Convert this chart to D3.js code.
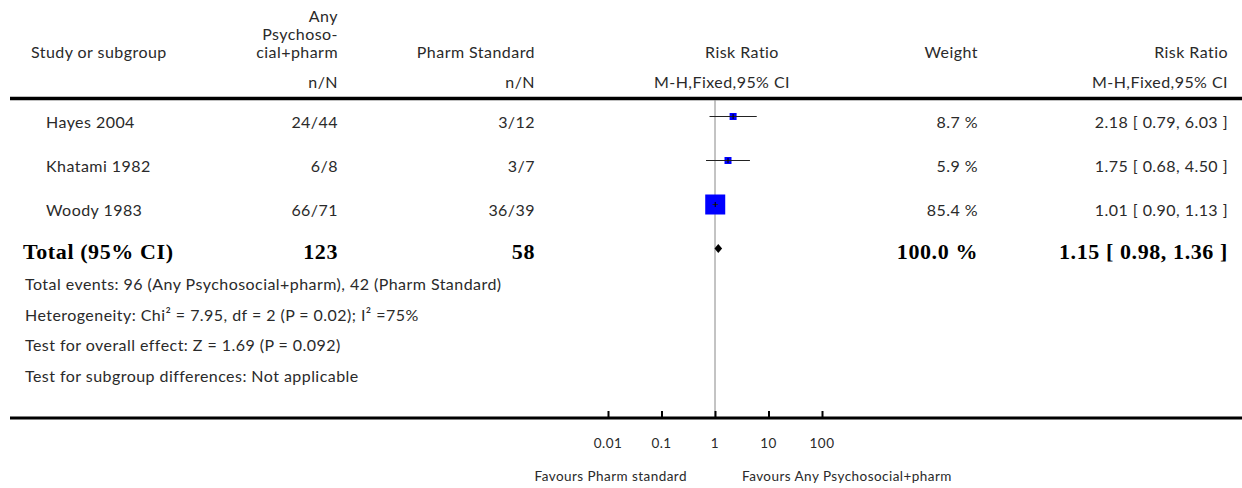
<!DOCTYPE html>
<html>
<head>
<meta charset="utf-8">
<script src="https://cdn.jsdelivr.net/npm/d3@7"></script>
<style>
  html, body { margin: 0; padding: 0; background: #fff; }
  svg { display: block; }
  .reg { font-family: Lato, "Open Sans", sans-serif; font-size: 16px; letter-spacing: 0.45px; fill: #2a2a2a; }
  .small { font-family: Lato, "Open Sans", sans-serif; font-size: 13.5px; letter-spacing: 0.45px; fill: #2a2a2a; }
  .bold { font-family: "Liberation Serif", "DejaVu Serif", serif; font-weight: bold; font-size: 22px; letter-spacing: 0.6px; fill: #000; }
</style>
</head>
<body>
<svg id="chart" width="1242" height="488"></svg>
<script>
// Study-level data (Risk Ratio, M-H fixed effect)
const studies = ["Hayes 2004", "Khatami 1982", "Woody 1983"];
const expEvents = [24, 6, 66];
const expTotals = [44, 8, 71];
const ctlEvents = [3, 3, 36];
const ctlTotals = [12, 7, 39];
const ratios = [2.18, 1.75, 1.01];
const lowers = [0.79, 0.68, 0.90];
const uppers = [6.03, 4.50, 1.13];
const weights = [8.7, 5.9, 85.4];

// Pooled estimate
const totalLabel = "Total (95% CI)";
const totalExpN = 123;
const totalCtlN = 58;
const totalWeight = 100.0;
const totalRatio = 1.15;
const totalLower = 0.98;
const totalUpper = 1.36;

const footnotes = [
  "Total events: 96 (Any Psychosocial+pharm), 42 (Pharm Standard)",
  "Heterogeneity: Chi² = 7.95, df = 2 (P = 0.02); I² =75%",
  "Test for overall effect: Z = 1.69 (P = 0.092)",
  "Test for subgroup differences: Not applicable"
];

const tickValues = [0.01, 0.1, 1, 10, 100];
const tickLabels = ["0.01", "0.1", "1", "10", "100"];
const favoursLeft = "Favours Pharm standard";
const favoursRight = "Favours Any Psychosocial+pharm";

const svg = d3.select("#chart");

// Log scale for the plot column
const x = d3.scaleLog().domain([0.01, 100]).range([608, 822]);
// Row positions (marker centre)
const rowY = d3.scaleLinear().domain([0, 3]).range([116.5, 248.5]);
const textDy = 11;
// Marker size from study weight
const box = d3.scaleSqrt().domain([0, 85.4]).range([0, 20]);

// Column anchors
const colStudy = 46, colExp = 338, colCtl = 535, colWeight = 978, colCI = 1228;

// Header
const hdr = svg.append("g").attr("class", "reg");
hdr.append("text").attr("x", 31).attr("y", 58).text("Study or subgroup");
[["Any", 22], ["Psychoso-", 40], ["cial+pharm", 58]].forEach(([t, y]) =>
  hdr.append("text").attr("x", colExp).attr("y", y).attr("text-anchor", "end").text(t));
hdr.append("text").attr("x", colExp).attr("y", 88).attr("text-anchor", "end").text("n/N");
hdr.append("text").attr("x", colCtl).attr("y", 58).attr("text-anchor", "end").text("Pharm Standard");
hdr.append("text").attr("x", colCtl).attr("y", 88).attr("text-anchor", "end").text("n/N");
hdr.append("text").attr("x", 742).attr("y", 58).attr("text-anchor", "middle").text("Risk Ratio");
hdr.append("text").attr("x", 722).attr("y", 88).attr("text-anchor", "middle").text("M-H,Fixed,95% CI");
hdr.append("text").attr("x", colWeight).attr("y", 58).attr("text-anchor", "end").text("Weight");
hdr.append("text").attr("x", colCI).attr("y", 58).attr("text-anchor", "end").text("Risk Ratio");
hdr.append("text").attr("x", colCI).attr("y", 88).attr("text-anchor", "end").text("M-H,Fixed,95% CI");

// Rules
svg.append("line").attr("x1", 10).attr("x2", 1242).attr("y1", 98.5).attr("y2", 98.5)
  .attr("stroke", "#000").attr("stroke-width", 3.5);

// Line of no effect
svg.append("line").attr("x1", x(1)).attr("x2", x(1)).attr("y1", 100).attr("y2", 417)
  .attr("stroke", "#888").attr("stroke-width", 1);

// Study rows
const fmt2 = d3.format(".2f");
const rows = svg.append("g").selectAll("g").data(studies).join("g");
rows.append("text").attr("class", "reg").attr("x", colStudy).attr("y", (d, i) => rowY(i) + textDy).text(d => d);
rows.append("text").attr("class", "reg").attr("x", colExp).attr("y", (d, i) => rowY(i) + textDy)
  .attr("text-anchor", "end").text((d, i) => expEvents[i] + "/" + expTotals[i]);
rows.append("text").attr("class", "reg").attr("x", colCtl).attr("y", (d, i) => rowY(i) + textDy)
  .attr("text-anchor", "end").text((d, i) => ctlEvents[i] + "/" + ctlTotals[i]);
rows.append("text").attr("class", "reg").attr("x", colWeight).attr("y", (d, i) => rowY(i) + textDy)
  .attr("text-anchor", "end").text((d, i) => d3.format(".1f")(weights[i]) + " %");
rows.append("text").attr("class", "reg").attr("x", colCI).attr("y", (d, i) => rowY(i) + textDy)
  .attr("text-anchor", "end")
  .text((d, i) => `${fmt2(ratios[i])} [ ${fmt2(lowers[i])}, ${fmt2(uppers[i])} ]`);

// Weighted squares
rows.append("rect")
  .attr("x", (d, i) => x(ratios[i]) - Math.max(7, box(weights[i])) / 2)
  .attr("y", (d, i) => rowY(i) - Math.max(7, box(weights[i])) / 2)
  .attr("width", (d, i) => Math.max(7, box(weights[i])))
  .attr("height", (d, i) => Math.max(7, box(weights[i])))
  .attr("fill", "#0000ff");
// Confidence intervals
rows.append("line")
  .attr("x1", (d, i) => x(lowers[i])).attr("x2", (d, i) => x(uppers[i]))
  .attr("y1", (d, i) => rowY(i)).attr("y2", (d, i) => rowY(i))
  .attr("stroke", "#222").attr("stroke-width", 1);
rows.append("line")
  .attr("x1", (d, i) => x(ratios[i])).attr("x2", (d, i) => x(ratios[i]))
  .attr("y1", (d, i) => rowY(i) - 2.5).attr("y2", (d, i) => rowY(i) + 2.5)
  .attr("stroke", "#000").attr("stroke-width", 1);

// Pooled row
const ty = rowY(3);
svg.append("text").attr("class", "bold").attr("x", 23).attr("y", ty + 10).text(totalLabel);
svg.append("text").attr("class", "bold").attr("x", colExp).attr("y", ty + 10).attr("text-anchor", "end").text(totalExpN);
svg.append("text").attr("class", "bold").attr("x", colCtl).attr("y", ty + 10).attr("text-anchor", "end").text(totalCtlN);
svg.append("text").attr("class", "bold").attr("x", colWeight).attr("y", ty + 10).attr("text-anchor", "end")
  .text(d3.format(".1f")(totalWeight) + " %");
svg.append("text").attr("class", "bold").attr("x", colCI).attr("y", ty + 10).attr("text-anchor", "end")
  .text(`${fmt2(totalRatio)} [ ${fmt2(totalLower)}, ${fmt2(totalUpper)} ]`);
svg.append("path")
  .attr("d", `M${x(totalLower)},${ty} L${x(totalRatio)},${ty - 4.5} L${x(totalUpper)},${ty} L${x(totalRatio)},${ty + 4.5} Z`)
  .attr("fill", "#000");

// Footnotes
svg.append("g").selectAll("text").data(footnotes).join("text")
  .attr("class", "reg").attr("x", 25).attr("y", (d, i) => 290 + i * 30.5).text(d => d);

// Bottom axis
svg.append("line").attr("x1", 10).attr("x2", 1242).attr("y1", 418).attr("y2", 418)
  .attr("stroke", "#000").attr("stroke-width", 3);
const axis = d3.axisTop(x).tickValues(tickValues).tickSize(6).tickFormat("");
const ag = svg.append("g").attr("transform", "translate(0,417)").call(axis);
ag.select(".domain").remove();
ag.selectAll(".tick line").attr("stroke", "#000").attr("stroke-width", 2);
svg.append("g").selectAll("text").data(tickValues).join("text")
  .attr("class", "small").attr("x", d => x(d)).attr("y", 448).attr("text-anchor", "middle")
  .text((d, i) => tickLabels[i]);
svg.append("text").attr("class", "small").attr("x", 687).attr("y", 481).attr("text-anchor", "end").text(favoursLeft);
svg.append("text").attr("class", "small").attr("x", 742).attr("y", 481).text(favoursRight);
</script>
</body>
</html>
